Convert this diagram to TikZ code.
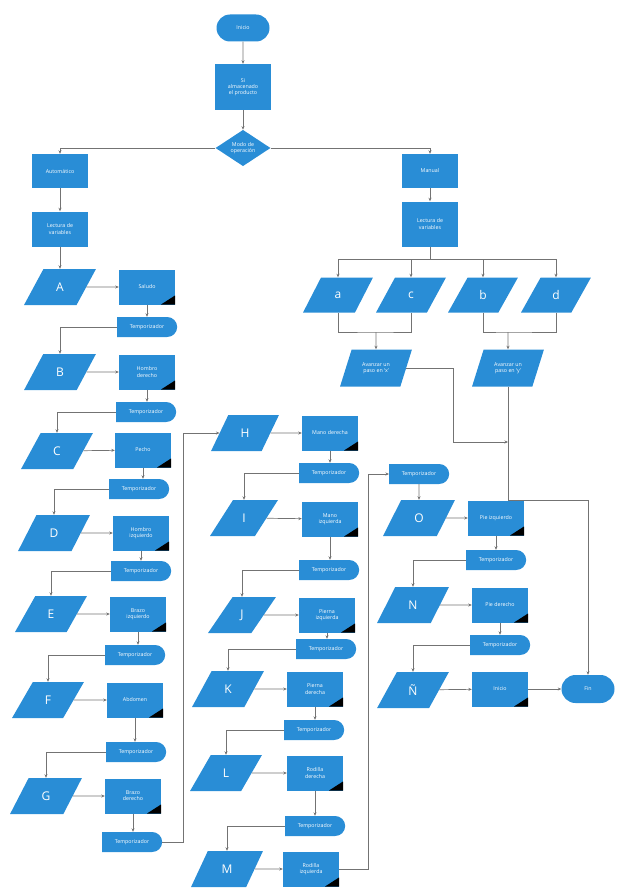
\documentclass[tikz,border=0pt]{standalone}
\usepackage{fontspec}
\setmainfont{Open Sans}
\usetikzlibrary{shapes.geometric,shapes.misc,arrows.meta}
\definecolor{flowblue}{RGB}{41,141,214}
\definecolor{linegray}{RGB}{115,115,115}

\begin{document}
\begin{tikzpicture}[x=1pt, y=-1pt,
    blk/.style={fill=flowblue, text=white, font=\fontsize{5.3}{6.2}\selectfont, align=center, inner sep=1pt},
    plain/.style={blk, rectangle, minimum width=56pt, minimum height=35pt},
    proc/.style={plain, path picture={\fill[black] (path picture bounding box.south east) -- ++(-14pt,0pt) -- ++(14pt,9pt) -- cycle;}},
    term/.style={blk, rounded rectangle, minimum width=55pt, minimum height=27pt},
    tmr/.style={blk, rounded rectangle, rounded rectangle left arc=none, minimum width=62pt, minimum height=20pt},
    io/.style={blk, trapezium, trapezium left angle=62, trapezium right angle=118, trapezium stretches=true, minimum width=72pt, minimum height=36pt},
    letter/.style={io, font=\fontsize{12}{13}\selectfont},
    dec/.style={blk, diamond, minimum width=55pt, minimum height=36pt, inner sep=0pt},
    arr/.style={-{Stealth[length=3.5pt,width=3pt]}, linegray, line width=0.7pt},
    lnk/.style={linegray, line width=0.7pt}
]
    \useasboundingbox (0,0) rectangle (617,888);

    % Top: start and mode choice
    \node[term] (inicio) at (243,28) {Inicio};
    \node[plain, minimum height=46pt] (alm) at (243,87) {Si\\almacenado\\el producto};
    \node[dec] (modo) at (243,148) {Modo de\\operación};
    \node[plain, minimum height=34pt] (auto) at (60,171) {Automático};
    \node[plain] (lecA) at (60,229) {Lectura de\\variables};
    \node[plain, minimum height=34pt] (manual) at (430,171) {Manual};
    \node[plain, minimum height=45pt] (lecM) at (430,224) {Lectura de\\variables};

    \draw[arr] (inicio) -- (alm);
    \draw[arr] (alm) -- (modo);
    \draw[arr] (modo.west) -| (auto.north);
    \draw[arr] (modo.east) -| (manual.north);
    \draw[arr] (auto) -- (lecA);
    \draw[arr] (manual) -- (lecM);

    % Manual branch
    \node[letter, minimum width=70pt, minimum height=35pt] (pa) at (338,295) {a};
    \node[letter, minimum width=70pt, minimum height=35pt] (pc) at (411,295) {c};
    \node[letter, minimum width=70pt, minimum height=35pt] (pb) at (483,295) {b};
    \node[letter, minimum width=70pt, minimum height=35pt] (pd) at (556,295) {d};
    \node[io, minimum width=72pt, minimum height=37pt] (avx) at (376,368) {Avanzar un\\paso en `x'};
    \node[io, minimum width=72pt, minimum height=37pt] (avy) at (508,368) {Avanzar un\\paso en `y'};

    \coordinate (split) at (430,259);
    \draw[lnk] (lecM.south) -- (split);
    \draw[arr] (split) -| (pa.north);
    \draw[arr] (split) -| (pc.north);
    \draw[arr] (split) -| (pb.north);
    \draw[arr] (split) -| (pd.north);
    \coordinate (jx) at (376,332);
    \coordinate (jy) at (508,332);
    \draw[lnk] (pa.south) |- (jx) -| (pc.south);
    \draw[lnk] (pb.south) |- (jy) -| (pd.south);
    \draw[arr] (jx) -- (avx.north);
    \draw[arr] (jy) -- (avy.north);

    % Automatic sequence, left column
    \node[letter] (A) at (60,287) {A};
    \node[proc] (sal) at (147,287) {Saludo};
    \node[tmr] (tA) at (147,327) {Temporizador};
    \node[letter] (B) at (60,372) {B};
    \node[proc] (hder) at (147,372) {Hombro\\derecho};
    \node[tmr] (tB) at (146,412) {Temporizador};
    \node[letter] (C) at (57,451) {C};
    \node[proc] (pecho) at (143,450) {Pecho};
    \node[tmr] (tC) at (139,489) {Temporizador};
    \node[letter] (D) at (54,533) {D};
    \node[proc] (hizq) at (141,533) {Hombro\\izquierdo};
    \node[tmr] (tD) at (141,571) {Temporizador};
    \node[letter] (E) at (51,614) {E};
    \node[proc] (bizq) at (138,614) {Brazo\\izquierdo};
    \node[tmr] (tE) at (135,655) {Temporizador};
    \node[letter] (F) at (48,700) {F};
    \node[proc] (abd) at (135,700) {Abdomen};
    \node[tmr] (tF) at (136,752) {Temporizador};
    \node[letter] (G) at (46,796) {G};
    \node[proc] (bder) at (133,796) {Brazo\\derecho};
    \node[tmr] (tG) at (132,842) {Temporizador};

    \draw[arr] (lecA) -- (A);
    \draw[arr] (A) -- (sal);     \draw[arr] (sal.south) -- (sal.south |- tA.north);   \draw[arr] (tA.west) -| (B.north);
    \draw[arr] (B) -- (hder);    \draw[arr] (hder.south) -- (hder.south |- tB.north); \draw[arr] (tB.west) -| (C.north);
    \draw[arr] (C) -- (pecho);   \draw[arr] (pecho.south) -- (pecho.south |- tC.north); \draw[arr] (tC.west) -| (D.north);
    \draw[arr] (D) -- (hizq);    \draw[arr] (hizq.south) -- (hizq.south |- tD.north); \draw[arr] (tD.west) -| (E.north);
    \draw[arr] (E) -- (bizq);    \draw[arr] (bizq.south) -- (bizq.south |- tE.north); \draw[arr] (tE.west) -| (F.north);
    \draw[arr] (F) -- (abd);     \draw[arr] (abd.south) -- (abd.south |- tF.north);   \draw[arr] (tF.west) -| (G.north);
    \draw[arr] (G) -- (bder);    \draw[arr] (bder.south) -- (bder.south |- tG.north);

    % Middle column
    \node[letter, minimum width=68pt] (H) at (245,433) {H};
    \node[proc] (mder) at (330,433) {Mano derecha};
    \node[tmr] (tH) at (329,473) {Temporizador};
    \node[letter, minimum width=68pt] (I) at (244,518) {I};
    \node[proc] (mizq) at (330,519) {Mano\\izquierda};
    \node[tmr] (tI) at (329,570) {Temporizador};
    \node[letter, minimum width=68pt] (J) at (242,615) {J};
    \node[proc] (piz) at (327,615) {Pierna\\izquierda};
    \node[tmr] (tJ) at (326,649) {Temporizador};
    \node[letter] (K) at (228,689) {K};
    \node[proc] (pde) at (315,689) {Pierna\\derecha};
    \node[tmr] (tK) at (314,730) {Temporizador};
    \node[letter] (L) at (226,773) {L};
    \node[proc] (rde) at (315,773) {Rodilla\\derecha};
    \node[tmr] (tL) at (315,826) {Temporizador};
    \node[letter] (M) at (227,869) {M};
    \node[proc] (riz) at (311,869) {Rodilla\\izquierda};

    \draw[arr] (tG.east) -- ++(21,0) |- (H.west);
    \draw[arr] (H) -- (mder);    \draw[arr] (mder.south) -- (mder.south |- tH.north); \draw[arr] (tH.west) -| (I.north);
    \draw[arr] (I) -- (mizq);    \draw[arr] (mizq.south) -- (mizq.south |- tI.north); \draw[arr] (tI.west) -| (J.north);
    \draw[arr] (J) -- (piz);     \draw[arr] (piz.south) -- (piz.south |- tJ.north);   \draw[arr] (tJ.west) -| (K.north);
    \draw[arr] (K) -- (pde);     \draw[arr] (pde.south) -- (pde.south |- tK.north);   \draw[arr] (tK.west) -| (L.north);
    \draw[arr] (L) -- (rde);     \draw[arr] (rde.south) -- (rde.south |- tL.north);   \draw[arr] (tL.west) -| (M.north);
    \draw[arr] (M) -- (riz);

    % Right column and end
    \node[tmr] (t0) at (419,474) {Temporizador};
    \node[letter] (O) at (419,518) {O};
    \node[proc] (pizq) at (496,518) {Pie izquierdo};
    \node[tmr] (tO) at (496,560) {Temporizador};
    \node[letter] (N) at (413,605) {N};
    \node[proc] (pder) at (500,605) {Pie derecho};
    \node[tmr] (tN) at (500,645) {Temporizador};
    \node[letter] (Ñ) at (413,690) {Ñ};
    \node[proc] (home) at (500,689) {Inicio};
    \node[term, minimum height=28pt] (fin) at (588,689) {Fin};

    \draw[arr] (riz.east) -- ++(29,0) |- (t0.west);
    \draw[arr] (t0) -- (O);
    \draw[arr] (O) -- (pizq);    \draw[arr] (pizq.south) -- (pizq.south |- tO.north); \draw[arr] (tO.west) -| (N.north);
    \draw[arr] (N) -- (pder);    \draw[arr] (pder.south) -- (pder.south |- tN.north); \draw[arr] (tN.west) -| (Ñ.north);
    \draw[arr] (Ñ) -- (home);
    \draw[arr] (home) -- (fin);

    % Manual branch down to the end
    \coordinate (kn) at (453,442);
    \coordinate (jn) at (508,442);
    \draw[arr] (avy.south) -- ++(0,114) -| (fin.north);
    \draw[arr] (avx.east) -| (kn) -- (jn);
\end{tikzpicture}
\end{document}
